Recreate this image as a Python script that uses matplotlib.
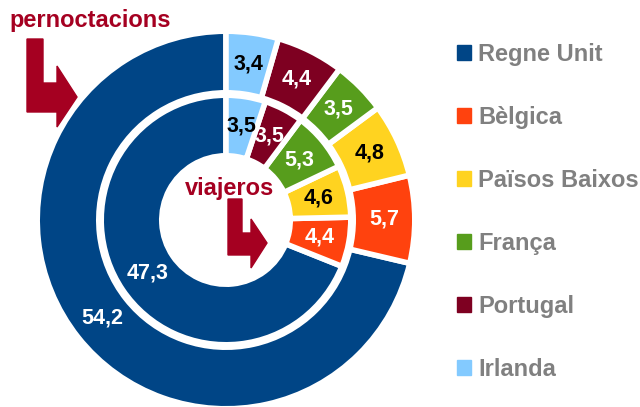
import matplotlib
matplotlib.use('Agg')
import matplotlib.pyplot as plt
import matplotlib.patches as mpatches
from matplotlib.transforms import Affine2D
import numpy as np

# Data
countries = ['Regne Unit', 'Bèlgica', 'Països Baixos', 'França', 'Portugal', 'Irlanda']
pernoctacions = [54.2, 5.7, 4.8, 3.5, 4.4, 3.4]
viajeros = [47.3, 4.4, 4.6, 5.3, 3.5, 3.5]
colors = ['#004586', '#ff420e', '#ffd320', '#579d1c', '#7e0021', '#83caff']
label_colors = ['white', 'white', 'black', 'white', 'white', 'black']

dark_red = '#a50021'
plt.rcParams['font.family'] = ['Liberation Sans', 'DejaVu Sans']

fig = plt.figure(figsize=(6.4, 4.07), dpi=100)
# axes covering the whole figure, 1 data unit = 1 pixel
ax = fig.add_axes([0, 0, 1, 1])

cx, cy = 226, 407 - 220
lw = 4
half = lw * 100 / 72 / 2

def ring(values, r_out, r_in, lab_r):
    wedges, _ = ax.pie(values, colors=colors, startangle=90, counterclock=True,
                       center=(cx, cy), radius=r_out + half,
                       wedgeprops=dict(width=(r_out + half) - (r_in - half),
                                       edgecolor='white', linewidth=lw),
                       frame=True)
    for w, v, tc in zip(wedges, values, label_colors):
        ang = np.deg2rad((w.theta1 + w.theta2) / 2)
        ax.text(cx + lab_r * np.cos(ang), cy + lab_r * np.sin(ang),
                f'{v:.1f}'.replace('.', ','), ha='center', va='center',
                color=tc, fontsize=15.5, fontweight='bold')
    return wedges

ring(pernoctacions, 186, 130, 158)
ring(viajeros, 122, 67, 95)
ax.set_xlim(0, 640)
ax.set_ylim(0, 407)
ax.set_aspect('equal')
ax.axis('off')

# bent arrows, given in pixel coordinates from the top-left corner
px = Affine2D().scale(1 / 640, -1 / 407).translate(0, 1) + fig.transFigure
arrow1 = [(27, 39), (43, 39), (43, 83), (57, 83), (57, 66), (77, 97),
          (57, 127), (57, 112), (27, 112)]
arrow2 = [(228, 199), (242, 199), (242, 233), (251, 233), (251, 219), (267, 243),
          (251, 268), (251, 255), (228, 255)]
for pts in (arrow1, arrow2):
    fig.patches.append(mpatches.Polygon(pts, closed=True, color=dark_red,
                                        transform=px, zorder=5))

fig.text(9, 27, 'pernoctacions', transform=px, color=dark_red,
         fontsize=17, fontweight='bold', va='baseline', ha='left')
fig.text(185, 195, 'viajeros', transform=px, color=dark_red,
         fontsize=17, fontweight='bold', va='baseline', ha='left')

handles = [mpatches.Patch(color=c) for c in colors]
leg = fig.legend(handles, countries, loc='upper left',
                 bbox_to_anchor=(457 / 640, 1 - 43 / 407), frameon=False,
                 fontsize=17, labelspacing=1.69, handlelength=0.6,
                 handleheight=0.6, handletextpad=0.3, borderpad=0,
                 borderaxespad=0)
for t in leg.get_texts():
    t.set_color('#808080')
    t.set_fontweight('bold')

fig.savefig('out.png', dpi=100)
